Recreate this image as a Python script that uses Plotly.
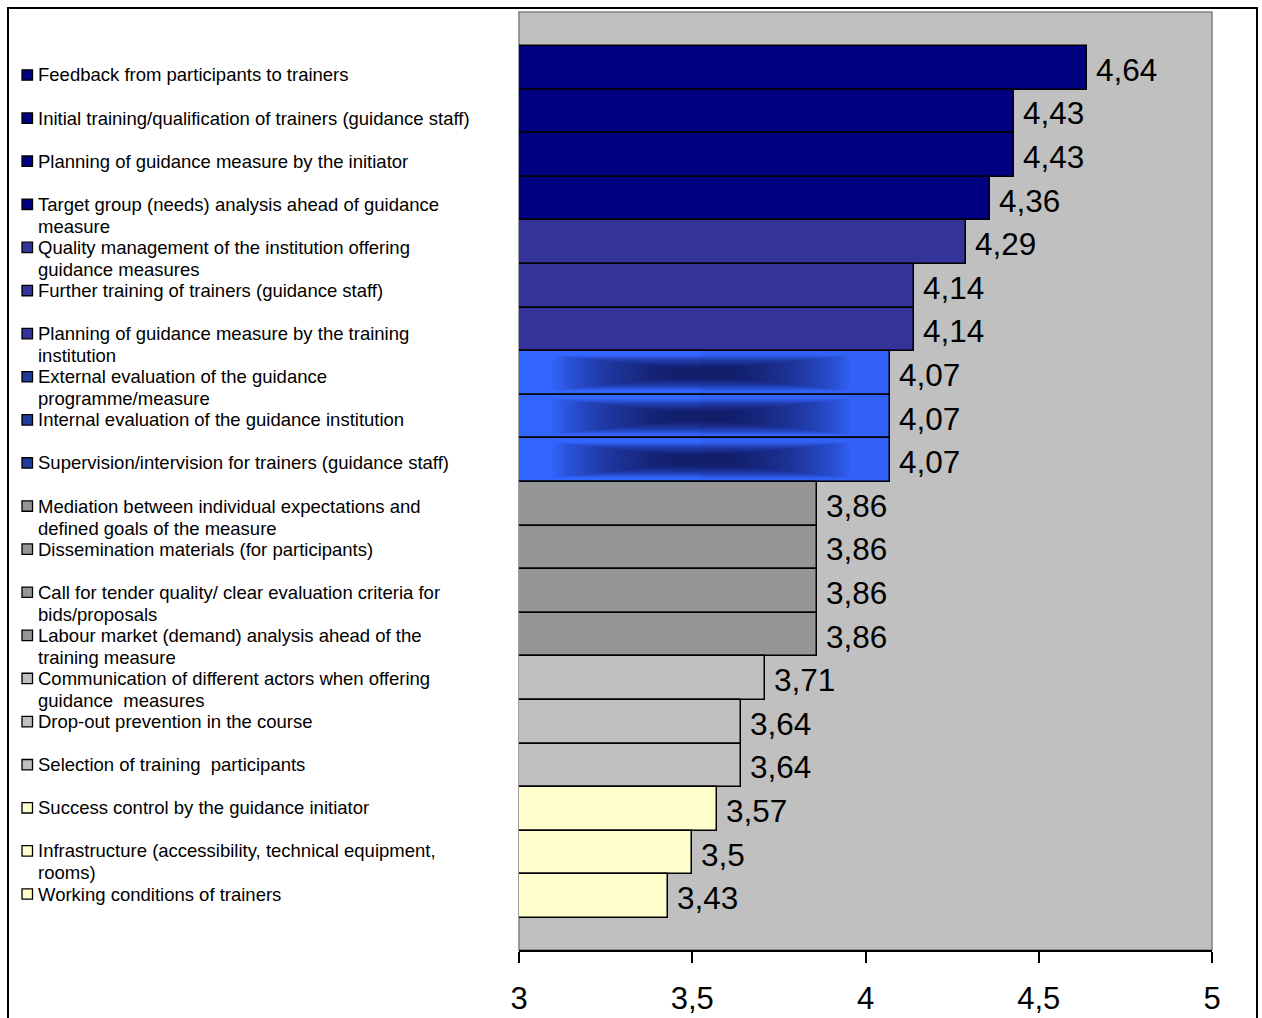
import plotly.graph_objects as go

# ---------------- data ----------------
categories = [
    "Feedback from participants to trainers",
    "Initial training/qualification of trainers (guidance staff)",
    "Planning of guidance measure by the initiator",
    "Target group (needs) analysis ahead of guidance<br>measure",
    "Quality management of the institution offering<br>guidance measures",
    "Further training of trainers (guidance staff)",
    "Planning of guidance measure by the training<br>institution",
    "External evaluation of the guidance<br>programme/measure",
    "Internal evaluation of the guidance institution",
    "Supervision/intervision for trainers (guidance staff)",
    "Mediation between individual expectations and<br>defined goals of the measure",
    "Dissemination materials (for participants)",
    "Call for tender quality/ clear evaluation criteria for<br>bids/proposals",
    "Labour market (demand) analysis ahead of the<br>training measure",
    "Communication of different actors when offering<br>guidance  measures",
    "Drop-out prevention in the course",
    "Selection of training  participants",
    "Success control by the guidance initiator",
    "Infrastructure (accessibility, technical equipment,<br>rooms)",
    "Working conditions of trainers",
]
values = [4.64, 4.43, 4.43, 4.36, 4.29, 4.14, 4.14, 4.07, 4.07, 4.07,
          3.86, 3.86, 3.86, 3.86, 3.71, 3.64, 3.64, 3.57, 3.5, 3.43]
value_labels = ["4,64", "4,43", "4,43", "4,36", "4,29", "4,14", "4,14", "4,07", "4,07", "4,07",
                "3,86", "3,86", "3,86", "3,86", "3,71", "3,64", "3,64", "3,57", "3,5", "3,43"]
groups = [0, 0, 0, 0, 1, 1, 1, 2, 2, 2, 3, 3, 3, 3, 4, 4, 4, 5, 5, 5]
tick_vals = [3, 3.5, 4, 4.5, 5]
tick_text = ["3", "3,5", "4", "4,5", "5"]

# ---------------- styles ----------------
group_colors = ["#000080", "#333399", "#3366FF", "#969696", "#C0C0C0", "#FFFFCC"]
legend_colors = ["#000080", "#333399", "#1E3C9A", "#969696", "#C0C0C0", "#FFFFCC"]
BASE = 3.0
W, H = 1262, 1018
PL, PR, PT, PB = 519, 1212, 12, 950  # plot area in pixels
FONT = "Liberation Sans, Arial"


def px_x(px):
    return (px - PL) / (PR - PL)


def px_y(py):
    return (PB - py) / (PB - PT)


n = len(values)
pos = list(range(n))
bar_colors = [group_colors[g] for g in groups]

fig = go.Figure()
fig.add_trace(go.Bar(
    orientation="h",
    y=pos,
    x=[v - BASE for v in values],
    base=BASE,
    width=1.0,
    marker=dict(color=bar_colors, line=dict(color="black", width=1.5)),
    hovertext=[c.replace("<br>", " ") for c in categories],
    hoverinfo="text",
    showlegend=False,
))

shapes = []
# gradient effect on the bright blue bars (many nested translucent dark rectangles)
layers = 26
for i, (v, g) in enumerate(zip(values, groups)):
    if g != 2:
        continue
    L = v - BASE
    cx = BASE + 0.49 * L
    # slight darkening toward right end
    shapes.append(dict(
        type="rect", xref="x", yref="y",
        x0=cx, x1=v, y0=i - 0.5, y1=i + 0.5,
        fillcolor="#0c1850", opacity=0.06, line=dict(width=0), layer="above",
    ))
    for k in range(layers):
        t = k / (layers - 1)
        hw = L * (0.40 - 0.32 * t)
        hh = 0.40 - 0.30 * t
        shapes.append(dict(
            type="rect", xref="x", yref="y",
            x0=cx - hw, x1=cx + hw, y0=i - hh, y1=i + hh,
            fillcolor="#0c1850", opacity=0.055, line=dict(width=0),
            layer="above",
        ))

# plot area border
shapes.append(dict(type="rect", xref="paper", yref="paper", x0=0, x1=1, y0=0, y1=1,
                   line=dict(color="#808080", width=1.5), layer="below"))
# outer chart border
shapes.append(dict(type="rect", xref="paper", yref="paper",
                   x0=px_x(8), x1=px_x(1257), y0=px_y(1040), y1=px_y(8),
                   line=dict(color="black", width=2)))

annotations = []
# data labels
for i, (v, lab) in enumerate(zip(values, value_labels)):
    annotations.append(dict(
        x=v, y=i, xref="x", yref="y", text=lab, showarrow=False,
        xanchor="left", yanchor="middle", xshift=7, yshift=-2,
        font=dict(family=FONT, size=31.5, color="black"),
    ))

# legend (left side)
leg_top, leg_bot = 75, 894
step = (leg_bot - leg_top) / (n - 1)
line_h = 22
for i, (c, g) in enumerate(zip(categories, groups)):
    cy = leg_top + i * step
    for j, line in enumerate(c.split("<br>")):
        annotations.append(dict(
            x=px_x(36), y=px_y(cy + j * line_h), xref="paper", yref="paper", text=line,
            showarrow=False, xanchor="left", yanchor="middle", align="left",
            font=dict(family=FONT, size=18.5, color="black"),
        ))
    shapes.append(dict(
        type="rect", xref="paper", yref="paper",
        x0=px_x(22), x1=px_x(32.5), y0=px_y(cy + 5.2), y1=px_y(cy - 5.2),
        fillcolor=legend_colors[g], line=dict(color="black", width=1.3),
    ))

fig.update_layout(
    width=W, height=H,
    margin=dict(l=PL, r=W - PR, t=PT, b=H - PB, pad=0, autoexpand=False),
    paper_bgcolor="white",
    plot_bgcolor="#C0C0C0",
    bargap=0,
    shapes=shapes,
    annotations=annotations,
    font=dict(family=FONT, color="black"),
    xaxis=dict(
        range=[3, 5], tickvals=tick_vals, ticktext=tick_text,
        showgrid=False, zeroline=False, automargin=False,
        showline=True, linecolor="black", linewidth=1.5,
        ticks="outside", ticklen=11, tickwidth=1.5, tickcolor="black",
        tickfont=dict(family=FONT, size=31, color="black"),
        ticklabelstandoff=9,
    ),
    yaxis=dict(
        range=[n - 0.5 + 0.734, -0.5 - 0.78], automargin=False,
        showticklabels=False, showgrid=False, zeroline=False, showline=False,
        ticks="",
    ),
)

fig.write_html("out.html")
